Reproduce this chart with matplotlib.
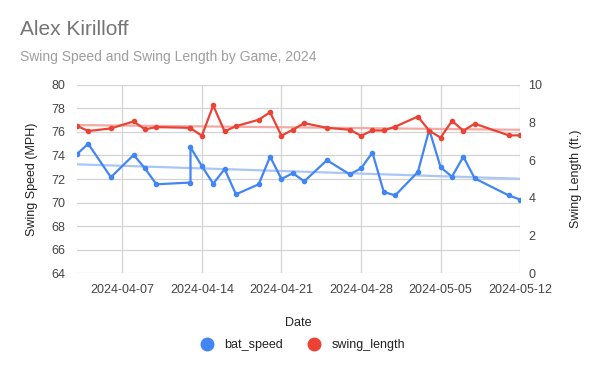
import numpy as np
import pandas as pd
import matplotlib
matplotlib.use("Agg")
import matplotlib.pyplot as plt
import matplotlib.dates as mdates
from matplotlib.lines import Line2D

plt.rcParams['font.family'] = ['Liberation Sans', 'DejaVu Sans']

dates = ["2024-04-03", "2024-04-04", "2024-04-06", "2024-04-08", "2024-04-09",
         "2024-04-10", "2024-04-13", "2024-04-13", "2024-04-14", "2024-04-15",
         "2024-04-16", "2024-04-17", "2024-04-19", "2024-04-20", "2024-04-21",
         "2024-04-22", "2024-04-23", "2024-04-25", "2024-04-27", "2024-04-28",
         "2024-04-29", "2024-04-30", "2024-05-01", "2024-05-03", "2024-05-04",
         "2024-05-05", "2024-05-06", "2024-05-07", "2024-05-08", "2024-05-11",
         "2024-05-12"]
bat_speed = [74.1, 75.0, 72.15, 74.05, 72.9, 71.55, 71.7, 74.7, 73.1, 71.6,
             72.85, 70.7, 71.55, 73.9, 72.0, 72.5, 71.8, 73.6, 72.4, 72.9,
             74.25, 70.9, 70.6, 72.6, 76.2, 73.0, 72.2, 73.9, 72.05, 70.6,
             70.25]
swing_length = [7.83, 7.55, 7.69, 8.06, 7.64, 7.76, 7.72, 7.70, 7.30, 8.91,
                7.53, 7.81, 8.15, 8.55, 7.30, 7.62, 7.97, 7.72, 7.62, 7.30,
                7.58, 7.58, 7.78, 8.32, 7.57, 7.20, 8.09, 7.57, 7.94, 7.32,
                7.32]

x = pd.to_datetime(dates)
blue = "#4285F4"
red = "#EA4335"
grid = "#d3d3d3"
txt = "#444444"

fig = plt.figure(figsize=(6, 3.71), dpi=100)
ax = fig.add_axes([0.128, 0.264, 0.739, 0.507])
ax2 = ax.twinx()

# trendlines
xn = mdates.date2num(x)
p1 = np.polyfit(xn, bat_speed, 1)
p2 = np.polyfit(xn, swing_length, 1)
xs = np.array([xn.min(), xn.max()])
ax.plot(xs, np.polyval(p1, xs), color="#a9c6f7", lw=1.6, zorder=2)
ax2.plot(xs, np.polyval(p2, xs), color="#f4aaa3", lw=1.6, zorder=2)

ax.plot(xn, bat_speed, color=blue, lw=1.6, marker="o", ms=3, zorder=3)
ax2.plot(xn, swing_length, color=red, lw=1.6, marker="o", ms=3, zorder=3)

ax.set_ylim(64, 80)
ax.set_yticks(range(64, 81, 2))
ax2.set_ylim(0, 10)
ax2.set_yticks(range(0, 11, 2))
ax.set_xlim(xn.min(), xn.max())
ticks = pd.to_datetime(["2024-04-07", "2024-04-14", "2024-04-21", "2024-04-28",
                        "2024-05-05", "2024-05-12"])
ax.set_xticks(mdates.date2num(ticks))
ax.set_xticklabels([t.strftime("%Y-%m-%d") for t in ticks])

ax.grid(True, color=grid, lw=0.9)
ax.set_axisbelow(True)
for a in (ax, ax2):
    for s in a.spines.values():
        s.set_visible(False)
    a.tick_params(length=0, labelsize=9, colors=txt)
ax.tick_params(axis="y", pad=8)
ax2.tick_params(axis="y", pad=6)
ax.tick_params(axis="x", pad=8)

ax.set_ylabel("Swing Speed (MPH)", fontsize=9, color="#222222", labelpad=10)
ax2.set_ylabel("Swing Length (ft.)", fontsize=9, color="#222222", labelpad=20)
ax.set_xlabel("Date", fontsize=9, color="#222222", labelpad=15)

fig.text(0.033, 0.905, "Alex Kirilloff", fontsize=15, color="#757575")
fig.text(0.033, 0.835, "Swing Speed and Swing Length by Game, 2024",
         fontsize=10, color="#9e9e9e")

handles = [Line2D([], [], ls="", marker="o", ms=9, color=blue),
           Line2D([], [], ls="", marker="o", ms=9, color=red)]
fig.legend(handles, ["bat_speed", "swing_length"], loc="center",
           bbox_to_anchor=(0.5, 0.07), ncol=2, frameon=False, fontsize=9,
           handletextpad=0.4, columnspacing=1.5, labelcolor="#222222")

fig.savefig("out.png", dpi=100)
